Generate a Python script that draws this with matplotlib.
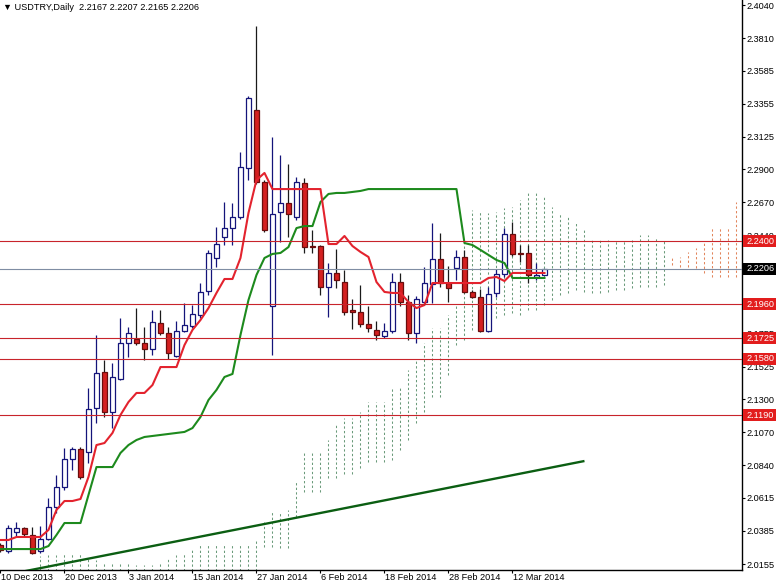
import matplotlib
matplotlib.use('Agg')
import matplotlib.pyplot as plt
import matplotlib.transforms as mtransforms
from matplotlib.patches import Rectangle
import numpy as np

plt.rcParams['font.family'] = ['Liberation Sans', 'DejaVu Sans']

# ---------------- data ----------------
opens = [2.0287, 2.0246, 2.0378, 2.0405, 2.0357, 2.0246, 2.0329, 2.0551, 2.0690, 2.0885,
         2.0954, 2.0934, 2.1239, 2.1490, 2.1212, 2.1441, 2.1691, 2.1719, 2.1691, 2.1650,
         2.1830, 2.1761, 2.1601, 2.1775, 2.1809, 2.1886, 2.2053, 2.2282, 2.2428, 2.2490,
         2.2567, 2.2907, 2.3311, 2.2810, 2.1948, 2.2602, 2.2664, 2.2567, 2.2803, 2.2365,
         2.2365, 2.2080, 2.2178, 2.2115, 2.1920, 2.1907, 2.1823, 2.1782, 2.1740, 2.1775,
         2.2115, 2.1976, 2.1761, 2.1976, 2.2101, 2.2275, 2.2108, 2.2212, 2.2289, 2.2046,
         2.2011, 2.1775, 2.2039, 2.2171, 2.2449, 2.2317, 2.2317, 2.2150, 2.2167]
highs = [2.0301, 2.0426, 2.0447, 2.0412, 2.0412, 2.0419, 2.0614, 2.0774, 2.0961, 2.0968,
         2.0968, 2.1378, 2.1747, 2.1573, 2.1552, 2.1865, 2.1802, 2.1934, 2.1802, 2.1920,
         2.1920, 2.1802, 2.1844, 2.1969, 2.1955, 2.2108, 2.2338, 2.2497, 2.2671, 2.2664,
         2.3019, 2.3408, 2.3894, 2.2824, 2.3123, 2.2998, 2.2935, 2.2845, 2.2838, 2.2477,
         2.2372, 2.2247, 2.2344, 2.2199, 2.1997, 2.2094, 2.1948, 2.1844, 2.1830, 2.2178,
         2.2178, 2.2025, 2.2018, 2.2219, 2.2525, 2.2456, 2.2226, 2.2338, 2.2338, 2.2060,
         2.2067, 2.2080, 2.2205, 2.2490, 2.2532, 2.2372, 2.2372, 2.2247, 2.2207]
lows = [2.0239, 2.0232, 2.0343, 2.0343, 2.0225, 2.0232, 2.0322, 2.0510, 2.0670, 2.0808,
        2.0746, 2.0857, 2.1135, 2.1177, 2.1100, 2.1434, 2.1594, 2.1677, 2.1573, 2.1608,
        2.1747, 2.1580, 2.1594, 2.1768, 2.1795, 2.1865, 2.2025, 2.2219, 2.2372, 2.2372,
        2.2553, 2.2824, 2.2796, 2.2463, 2.1608, 2.2393, 2.2428, 2.2546, 2.2317, 2.2317,
        2.2025, 2.1872, 2.2073, 2.1886, 2.1788, 2.1802, 2.1768, 2.1712, 2.1726, 2.1761,
        2.1948, 2.1712, 2.1691, 2.1955, 2.1969, 2.2080, 2.1976, 2.2129, 2.2039, 2.2004,
        2.1768, 2.1768, 2.2011, 2.2150, 2.2296, 2.2254, 2.2108, 2.2129, 2.2165]
closes = [2.0253, 2.0405, 2.0405, 2.0364, 2.0232, 2.0329, 2.0551, 2.0690, 2.0885, 2.0954,
          2.0760, 2.1232, 2.1483, 2.1212, 2.1455, 2.1691, 2.1761, 2.1691, 2.1650, 2.1837,
          2.1761, 2.1622, 2.1775, 2.1816, 2.1893, 2.2046, 2.2317, 2.2379, 2.2490, 2.2567,
          2.2914, 2.3394, 2.2810, 2.2477, 2.2588, 2.2664, 2.2588, 2.2810, 2.2358, 2.2358,
          2.2080, 2.2178, 2.2129, 2.1907, 2.1907, 2.1823, 2.1795, 2.1747, 2.1775, 2.2115,
          2.1976, 2.1761, 2.1997, 2.2108, 2.2275, 2.2108, 2.2073, 2.2289, 2.2046, 2.2011,
          2.1775, 2.2032, 2.2171, 2.2449, 2.2310, 2.2310, 2.2164, 2.2164, 2.2206]

tenkan = [2.0322, 2.0322, 2.0343, 2.0343, 2.0343, 2.0343, 2.0392, 2.0531, 2.0593, 2.0593,
          2.0607, 2.0760, 2.0982, 2.0996, 2.1066, 2.1191, 2.1281, 2.1344, 2.1344, 2.1399,
          2.1524, 2.1524, 2.1524, 2.1677, 2.1782, 2.1851, 2.1934, 2.2039, 2.2136, 2.2136,
          2.2282, 2.2595, 2.2824, 2.2873, 2.2761, 2.2761, 2.2761, 2.2761, 2.2761, 2.2761,
          2.2761, 2.2379, 2.2379, 2.2435, 2.2365, 2.2324, 2.2289, 2.2115, 2.2046, 2.2039,
          2.2039, 2.1976, 2.1934, 2.1955, 2.2108, 2.2108, 2.2108, 2.2108, 2.2108, 2.2108,
          2.2108, 2.2143, 2.2150, 2.2122, 2.2178, 2.2178, 2.2178, 2.2178, 2.2178]
kijun = [2.0259, 2.0259, 2.0259, 2.0259, 2.0259, 2.0259, 2.0280, 2.0357, 2.0440, 2.0440,
         2.0440, 2.0635, 2.0829, 2.0829, 2.0829, 2.0927, 2.0982, 2.1017, 2.1038, 2.1045,
         2.1052, 2.1059, 2.1066, 2.1073, 2.1100, 2.1177, 2.1295, 2.1365, 2.1455, 2.1476,
         2.1747, 2.1990, 2.2164, 2.2282, 2.2310, 2.2317, 2.2358, 2.2490, 2.2504, 2.2504,
         2.2671, 2.2727, 2.2734, 2.2734, 2.2741, 2.2748, 2.2761, 2.2761, 2.2761, 2.2761,
         2.2761, 2.2761, 2.2761, 2.2761, 2.2761, 2.2761, 2.2761, 2.2761, 2.2386, 2.2372,
         2.2338, 2.2303, 2.2268, 2.2247, 2.2143, 2.2143, 2.2143, 2.2143, 2.2143]

cloud_first_bar = 5
span_a = [2.0211, 2.0218, 2.0218, 2.0232, 2.0232, 2.0232, 2.0197, 2.0183, 2.0169, 2.0169,
          2.0169, 2.0169, 2.0148, 2.0148, 2.0148, 2.0162, 2.0197, 2.0218, 2.0232, 2.0266,
          2.0287, 2.0287, 2.0287, 2.0287, 2.0287, 2.0287, 2.0287, 2.0322, 2.0447, 2.0517,
          2.0517, 2.0531, 2.0725, 2.0934, 2.0927, 2.0934, 2.1017, 2.1135, 2.1170, 2.1170,
          2.1212, 2.1281, 2.1281, 2.1281, 2.1378, 2.1392, 2.1504, 2.1573, 2.1691, 2.1795,
          2.1795, 2.1886, 2.1955, 2.2407, 2.2616, 2.2602, 2.2595, 2.2602, 2.2629, 2.2636,
          2.2685, 2.2734, 2.2734, 2.2720, 2.2636, 2.2595, 2.2567, 2.2532, 2.2490, 2.2421,
          2.2407, 2.2407, 2.2407, 2.2407, 2.2407, 2.2442, 2.2442, 2.2428, 2.2407, 2.2233,
          2.2219, 2.2219, 2.2212, 2.2178, 2.2150, 2.2150, 2.2150, 2.2150]
span_b = [2.0044] * 28 + [
          2.0273, 2.0273, 2.0266, 2.0266, 2.0482, 2.0656, 2.0656, 2.0656, 2.0753, 2.0753,
          2.0781, 2.0781, 2.0822, 2.0864, 2.0864, 2.0864, 2.0878, 2.0948, 2.1017, 2.1135,
          2.1212, 2.1316, 2.1316, 2.1469, 2.1677, 2.1712, 2.1782, 2.1816, 2.1851, 2.1865,
          2.1886, 2.1900, 2.1886, 2.1921, 2.1921, 2.1955, 2.1990, 2.2025, 2.2039, 2.2060,
          2.2046, 2.2039, 2.2039, 2.2046, 2.2060, 2.2060, 2.2073, 2.2080, 2.2080, 2.2080,
          2.2094, 2.2282, 2.2289, 2.2324, 2.2351, 2.2386, 2.2497, 2.2497, 2.2497, 2.2671]

levels = [2.2400, 2.1960, 2.1725, 2.1580, 2.1190]
last_price = 2.2206
trend_bars = [0, 73]
trend_prices = [2.0072, 2.0871]

ytick_values = [2.4040, 2.3810, 2.3585, 2.3355, 2.3125, 2.2900, 2.2670, 2.2440,
                2.1985, 2.1755, 2.1525, 2.1300, 2.1070, 2.0840, 2.0615, 2.0385, 2.0155]
xtick_labels = ['10 Dec 2013', '20 Dec 2013', '3 Jan 2014', '15 Jan 2014', '27 Jan 2014',
                '6 Feb 2014', '18 Feb 2014', '28 Feb 2014', '12 Mar 2014']
xtick_step = 8
header = '\u25BC USDTRY,Daily  2.2167 2.2207 2.2165 2.2206'

# ---------------- figure ----------------
W, H = 776, 584
FS = 6.6
fig = plt.figure(figsize=(W / 100, H / 100), dpi=100)
fig.patch.set_facecolor('white')
ax = fig.add_axes([0, 14 / H, 742 / W, 570 / H])
ax.set_facecolor('white')

n = len(opens)
x = np.arange(n)
ax.set_xlim(-0.06, 742 / 8 - 0.06)
ax.set_ylim(2.01135, 2.4075)

# cloud
cx = np.arange(cloud_first_bar, cloud_first_bar + len(span_a))
sa = np.array(span_a)
sb = np.array(span_b)
up = sa >= sb
ax.vlines(cx[up], sb[up], sa[up], colors='#6a9a7a', linewidth=0.75,
          linestyles=(0, (2.2, 2.2)), zorder=1)
ax.vlines(cx[~up], sa[~up], sb[~up], colors='#e2855c', linewidth=0.75,
          linestyles=(0, (2.2, 2.2)), zorder=1)

# trend line
ax.plot(trend_bars, trend_prices, color='#0b5e12', linewidth=1.7, zorder=3,
        solid_capstyle='butt')

# candles
o = np.array(opens); c = np.array(closes); hi = np.array(highs); lo = np.array(lows)
bull = c >= o
ax.vlines(x[bull], lo[bull], hi[bull], colors='#14147a', linewidth=0.9, zorder=4)
ax.vlines(x[~bull], lo[~bull], hi[~bull], colors='#1a1a1a', linewidth=0.9, zorder=4)
bw = 0.58
ax.bar(x[bull], c[bull] - o[bull], bottom=o[bull], width=bw, color='white',
       edgecolor='#14147a', linewidth=0.9, zorder=5)
ax.bar(x[~bull], o[~bull] - c[~bull], bottom=c[~bull], width=bw, color='#d42020',
       edgecolor='#6a0d0d', linewidth=0.9, zorder=5)

# ichimoku lines
ax.plot(x, kijun, color='#1d8a1d', linewidth=1.5, zorder=6)
ax.plot(x, tenkan, color='#e3232e', linewidth=1.5, zorder=6)

# horizontal levels
for lv in levels:
    ax.axhline(lv, color='#c8242b', linewidth=0.8, zorder=7)
ax.axhline(last_price, color='#7f8da3', linewidth=0.8, zorder=7)

# axes styling
for s in ['top', 'left']:
    ax.spines[s].set_visible(False)
ax.spines['right'].set_linewidth(1.0)
ax.spines['bottom'].set_linewidth(1.0)
ax.yaxis.tick_right()
ax.set_yticks(ytick_values)
ax.set_yticklabels(['%.4f' % v for v in ytick_values])
ax.tick_params(axis='y', direction='out', length=2.2, width=0.8, pad=1.2,
               labelsize=FS, colors='black')
xt = np.arange(len(xtick_labels)) * xtick_step
ax.set_xticks(xt)
ax.set_xticklabels([])
ax.tick_params(axis='x', direction='out', length=2.5, width=0.8)
bx = mtransforms.blended_transform_factory(ax.transData, ax.transAxes)
for pos, lab in zip(xt, xtick_labels):
    ax.text(pos + 0.1, -0.006, lab, transform=bx,
            ha='left', va='top', fontsize=FS, clip_on=False)

# price label boxes
bt = mtransforms.blended_transform_factory(ax.transAxes, ax.transData)
half_h = 0.0041
def price_box(val, face):
    ax.add_patch(Rectangle((743 / 742, val - half_h), 33 / 742, 2 * half_h,
                           transform=bt, facecolor=face, edgecolor='none',
                           zorder=20, clip_on=False))
    ax.text(746 / 742, val, '%.4f' % val, transform=bt, ha='left', va='center',
            fontsize=FS, color='white', zorder=21, clip_on=False)

for lv in levels:
    price_box(lv, '#e21d1d')
price_box(last_price, '#000000')

fig.text(3 / W, 1 - 8 / H, header, ha='left', va='center', fontsize=FS)

fig.savefig('out.png', dpi=100, facecolor='white')
